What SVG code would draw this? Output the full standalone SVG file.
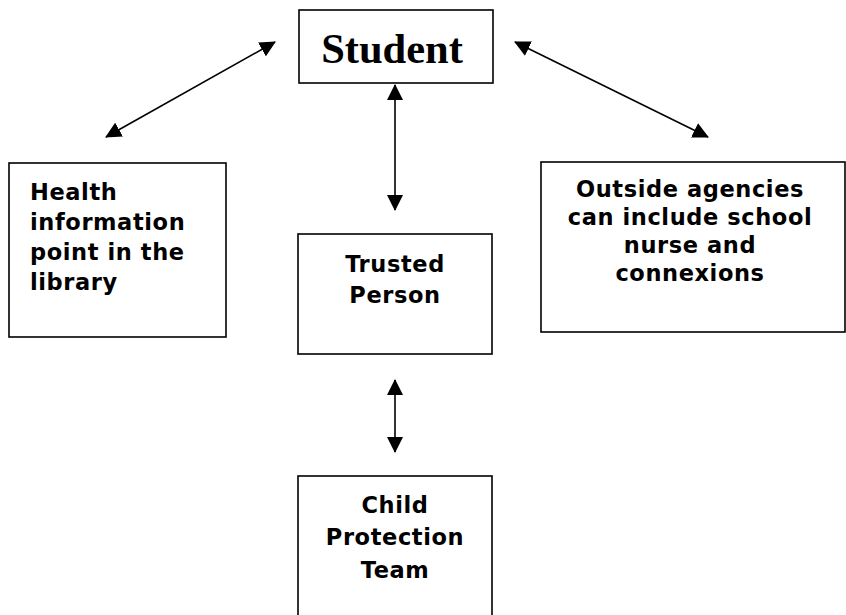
<svg xmlns="http://www.w3.org/2000/svg" width="846" height="615" viewBox="0 0 846 615">
<defs>
<marker id="ah" viewBox="0 0 16 16" refX="15" refY="8" markerWidth="16" markerHeight="16" markerUnits="userSpaceOnUse" orient="auto-start-reverse">
<path d="M0,0 L16,8 L0,16 Z" fill="#000"/>
</marker>
<style>
.box{fill:#fff;stroke:#000;stroke-width:1.6}
.t{font-family:"DejaVu Sans",Verdana,sans-serif;font-weight:bold;font-size:22.5px;letter-spacing:0.6px;fill:#000}
.c{text-anchor:middle}
.edge{stroke:#000;stroke-width:1.6;fill:none;marker-start:url(#ah);marker-end:url(#ah)}
</style>
</defs>
<rect width="846" height="615" fill="#fff"/>
<g id="connectors">
<line class="edge" x1="275" y1="42" x2="106" y2="137"/>
<line class="edge" x1="515" y1="42" x2="708" y2="137"/>
<line class="edge" x1="395" y1="85" x2="395" y2="210"/>
<line class="edge" x1="395" y1="380" x2="395" y2="452"/>
</g>
<g id="student">
<rect class="box" x="299" y="10" width="194" height="73"/>
<text x="392" y="63" text-anchor="middle" font-family="'Liberation Serif','Times New Roman',serif" font-weight="bold" font-size="42.5">Student</text>
</g>
<g id="health">
<rect class="box" x="9" y="163" width="217" height="174"/>
<text class="t" x="30" y="200">Health</text>
<text class="t" x="30" y="230">information</text>
<text class="t" x="30" y="260">point in the</text>
<text class="t" x="30" y="290">library</text>
</g>
<g id="outside">
<rect class="box" x="541" y="162" width="304" height="170"/>
<text class="t c" x="690" y="197">Outside agencies</text>
<text class="t c" x="690" y="225">can include school</text>
<text class="t c" x="690" y="253">nurse and</text>
<text class="t c" x="690" y="281">connexions</text>
</g>
<g id="trusted">
<rect class="box" x="298" y="234" width="194" height="120"/>
<text class="t c" x="395" y="272">Trusted</text>
<text class="t c" x="395" y="303">Person</text>
</g>
<g id="child">
<rect class="box" x="298" y="476" width="194" height="150"/>
<text class="t c" x="395" y="513">Child</text>
<text class="t c" x="395" y="545">Protection</text>
<text class="t c" x="395" y="578">Team</text>
</g>
</svg>
